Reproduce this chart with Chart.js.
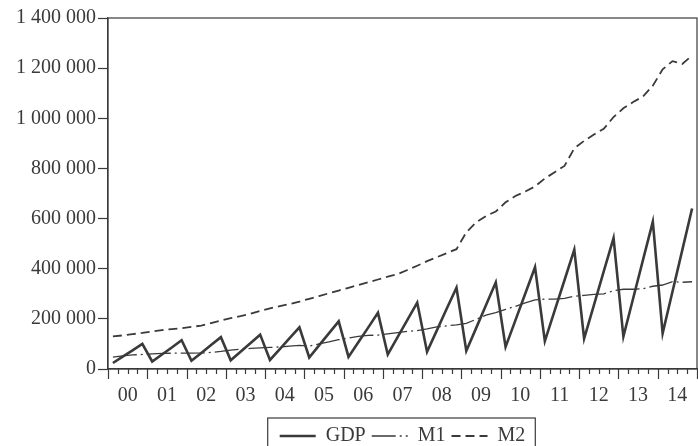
<!DOCTYPE html>
<html>
<head>
<meta charset="utf-8">
<script src="https://cdn.jsdelivr.net/npm/chart.js@4.4.1/dist/chart.umd.min.js"></script>
<style>body{margin:0;background:#fff}</style>
</head>
<body>
<canvas id="myChart" width="698" height="446"></canvas>
<script>
// quarterly data 2000Q1 - 2014Q4
var years = ['00','01','02','03','04','05','06','07','08','09','10','11','12','13','14'];
var quarters = [];
for (var y = 0; y < years.length; y++) {
  for (var q = 1; q <= 4; q++) quarters.push('20' + years[y] + 'Q' + q);
}

var gdp = [
  24000, 49000, 74000, 100000,
  30000, 58000, 86000, 115000,
  33000, 64000, 96000, 127000,
  35000, 69000, 103000, 137000,
  36000, 79000, 123000, 166000,
  46000, 94000, 142000, 190000,
  48000, 107000, 165000, 224000,
  58000, 127000, 196000, 265000,
  69000, 154000, 240000, 324000,
  72000, 163000, 254000, 345000,
  88000, 194000, 300000, 406000,
  111000, 233000, 354000, 476000,
  121000, 255000, 389000, 522000,
  129000, 282000, 435000, 588000,
  142000, 308000, 474000, 640000
];

var m1 = [
  47000, 52000, 56000, 58000,
  60000, 62000, 63000, 63000,
  63000, 64000, 66000, 70000,
  75000, 79000, 82000, 84000,
  86000, 88000, 91000, 94000,
  91000, 100000, 108000, 117000,
  123000, 130000, 134000, 135000,
  140000, 145000, 150000, 153000,
  160000, 168000, 172000, 176000,
  182000, 198000, 215000, 225000,
  238000, 250000, 264000, 276000,
  279000, 279000, 282000, 290000,
  294000, 298000, 300000, 312000,
  318000, 318000, 320000, 330000,
  335000, 348000, 346000, 348000
];

var m2 = [
  130000, 134000, 139000, 144000,
  150000, 155000, 159000, 163000,
  168000, 173000, 183000, 193000,
  203000, 211000, 220000, 232000,
  242000, 251000, 259000, 269000,
  280000, 291000, 302000, 313000,
  324000, 335000, 346000, 357000,
  368000, 378000, 395000, 412000,
  430000, 446000, 462000, 478000,
  545000, 585000, 610000, 628000,
  665000, 690000, 708000, 728000,
  760000, 785000, 810000, 880000,
  910000, 935000, 958000, 1005000,
  1040000, 1065000, 1087000, 1130000,
  1195000, 1228000, 1217000, 1250000
];

var yTicks = [0, 200000, 400000, 600000, 800000, 1000000, 1200000, 1400000];

var ink = '#3a3a3a';
var serif = {family: '"Liberation Serif", "DejaVu Serif", serif', size: 20};

function spaced(v) {
  return String(v).replace(/\B(?=(\d{3})+(?!\d))/g, ' ');
}

// box around the plot area and the legend, plus the quarter ticks under the x axis
var framePlugin = {
  id: 'frame',
  afterDraw: function(chart) {
    var ctx = chart.ctx, a = chart.chartArea;
    ctx.save();
    ctx.setLineDash([]);
    ctx.lineDashOffset = 0;
    ctx.strokeStyle = ink;
    ctx.lineWidth = 1.2;
    ctx.strokeRect(a.left, a.top, a.right - a.left, a.bottom - a.top);

    var xs = chart.scales.x;
    ctx.beginPath();
    for (var i = 0; i <= quarters.length; i++) {
      var px = Math.round(xs.getPixelForValue(i - 0.5)) + 0.5;
      if (px > a.right + 1) continue;
      ctx.moveTo(px, a.bottom);
      ctx.lineTo(px, a.bottom + (i % 4 === 0 ? 10 : 5));
    }
    ctx.stroke();

    var hb = chart.legend.legendHitBoxes;
    if (hb && hb.length) {
      var last = hb[hb.length - 1];
      var l = hb[0].left - 12, r = last.left + last.width + 10, t = hb[0].top - 8;
      ctx.strokeRect(l, t, r - l, chart.height + 20 - t);
    }
    ctx.restore();
  }
};

new Chart('myChart', {
  type: 'line',
  data: {
    labels: quarters,
    datasets: [{
      label: 'GDP',
      data: gdp,
      borderColor: ink,
      borderWidth: 2.6,
      pointRadius: 0,
      tension: 0
    }, {
      label: 'M1',
      data: m1,
      borderColor: ink,
      borderWidth: 1.3,
      borderDash: [24, 4, 2, 4],
      pointRadius: 0,
      tension: 0
    }, {
      label: 'M2',
      data: m2,
      borderColor: ink,
      borderWidth: 1.8,
      borderDash: [9, 5],
      pointRadius: 0,
      tension: 0
    }]
  },
  options: {
    responsive: false,
    animation: false,
    layout: {padding: {top: 18, right: 1, bottom: -10, left: 1}},
    scales: {
      x: {
        type: 'category',
        position: 'bottom',
        offset: true,
        grid: {offset: true, drawOnChartArea: false, drawTicks: false},
        border: {color: ink, width: 1.2},
        ticks: {display: false},
        afterFit: function(s) { s.height = 10; }
      },
      years: {
        type: 'category',
        position: 'bottom',
        weight: 1,
        labels: years,
        offset: true,
        grid: {display: false, drawTicks: false},
        border: {display: false},
        ticks: {color: ink, font: serif, padding: 5, autoSkip: false, maxRotation: 0},
        afterFit: function(s) { s.height = 41; }
      },
      y: {
        min: 0,
        max: 1400000,
        grid: {drawOnChartArea: false, tickLength: 10, tickColor: ink, tickWidth: 1.2},
        border: {color: ink, width: 1.2},
        ticks: {color: ink, font: serif, padding: 2, callback: function(v) { return spaced(v); }},
        afterBuildTicks: function(s) { s.ticks = yTicks.map(function(v) { return {value: v}; }); },
        afterFit: function(s) { s.width = 107; }
      }
    },
    plugins: {
      tooltip: {enabled: false},
      legend: {
        position: 'bottom',
        fullSize: false,
        labels: {
          usePointStyle: true,
          pointStyle: 'line',
          pointStyleWidth: 36,
          padding: 6,
          color: ink,
          font: serif,
          generateLabels: function(chart) {
            var items = Chart.defaults.plugins.legend.labels.generateLabels(chart);
            items.forEach(function(it) {
              var ds = chart.data.datasets[it.datasetIndex];
              it.lineDash = ds.borderDash || [];
              it.lineWidth = ds.borderWidth;
              it.pointStyle = 'line';
            });
            return items;
          }
        }
      }
    }
  },
  plugins: [framePlugin]
});
</script>
</body>
</html>
